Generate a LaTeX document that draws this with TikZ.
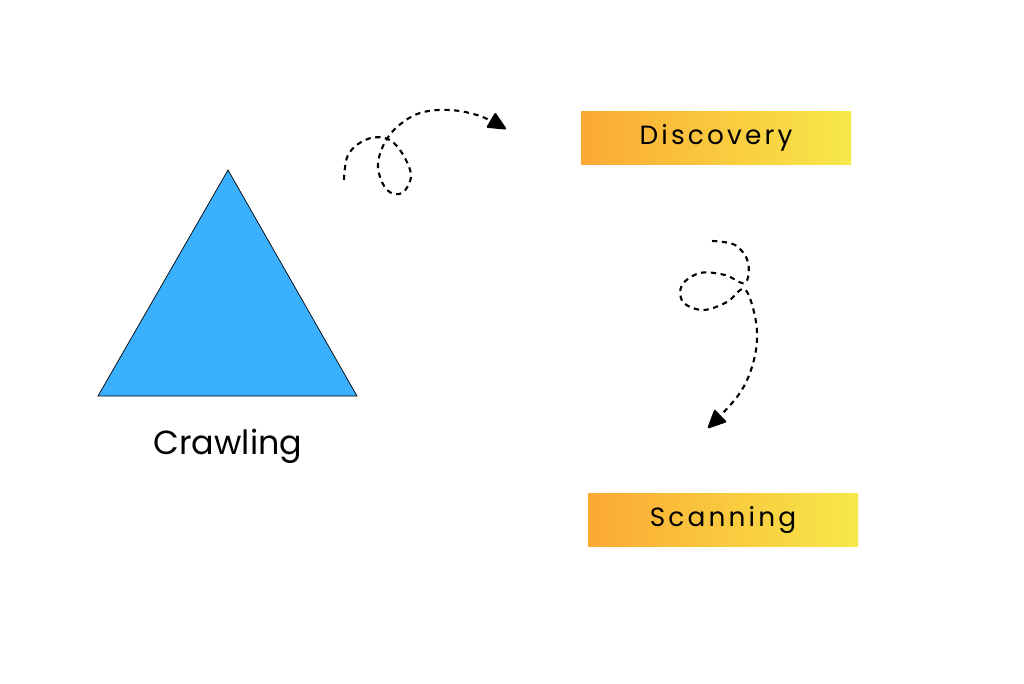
\documentclass[tikz,border=0pt]{standalone}
\usepackage{fontspec}
\setmainfont{Poppins}
\newfontfamily\spaced[LetterSpace=12]{Poppins}
\usetikzlibrary{arrows.meta}
\definecolor{crawlblue}{HTML}{3BB0FF}
\definecolor{boxorange}{HTML}{FBA933}
\definecolor{boxyellow}{HTML}{F7E84A}
\tikzset{
  stage/.style={left color=boxorange, right color=boxyellow, draw=none,
    minimum width=270*0.02cm, minimum height=53*0.02cm, inner sep=0pt,
    font=\spaced\fontsize{15}{18}\selectfont},
  squiggle/.style={line width=1.2pt, dash pattern=on 3pt off 2.6pt,
    -{Triangle[length=11pt,width=10pt,round]}}
}
\begin{document}
\begin{tikzpicture}[x=0.02cm, y=-0.02cm]
  \useasboundingbox (0,0) rectangle (1024,683);
  % crawling triangle
  \coordinate (top) at (228,170);
  \coordinate (bl) at (98,396);
  \coordinate (br) at (357,396);
  \filldraw[fill=crawlblue, draw=black, line width=0.4pt] (top) -- (bl) -- (br) -- cycle;
  \node (crawl) at (228,446) {\fontsize{19}{22}\selectfont Crawling};

  % stages
  \node[stage] (disc) at (716,138) {Discovery};
  \node[stage] (scan) at (723,520) {Scanning};

  % loop towards discovery
  \draw[squiggle] plot[smooth, tension=0.6] coordinates {(344,180) (348,155) (365,140) (385,138)
    (400,150) (411,175) (402,193) (387,190) (378,168) (383,146) (397,127) (420,113)
    (450,110) (480,116) (506,129)};
  % loop towards scanning
  \draw[squiggle] plot[smooth, tension=0.6] coordinates {(712,241) (735,245) (748,262) (745,283)
    (725,275) (700,273) (682,285) (683,302) (703,310) (727,302) (744,289) (754,312)
    (757,340) (751,370) (737,397) (708,428)};
\end{tikzpicture}
\end{document}
